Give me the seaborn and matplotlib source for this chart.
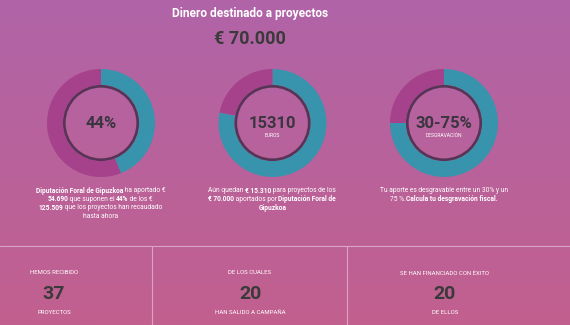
import numpy as np
import matplotlib
matplotlib.use("Agg")
import matplotlib.pyplot as plt
import seaborn as sns
from matplotlib.colors import LinearSegmentedColormap
from matplotlib.transforms import IdentityTransform

sns.set_style("white")
plt.rcParams['font.family'] = ['Roboto', 'DejaVu Sans']

# ---- data ----
title = "Dinero destinado a proyectos"
total_label = "€ 70.000"
donut_labels = ["Aportado", "Resto"]
donut1_values = [44, 56]            # % aportado por Diputación
donut2_values = [54690, 15310]      # gastado / restante de 70.000
donut3_values = [75, 25]            # desgravación
center_big = ["44%", "15310", "30-75%"]
center_small = ["", "EUROS", "DESGRAVACIÓN"]
captions = [
    [[("Diputación Foral de Gipuzkoa", True), (" ha aportado €", False)],
     [("54.690", True), (" que suponen el ", False), ("44%", True), (" de los €", False)],
     [("125.509", True), (" que los proyectos han recaudado", False)],
     [("hasta ahora", False)]],
    [[("Aún quedan ", False), ("€ 15.310", True), (" para proyectos de los", False)],
     [("€ 70.000", True), (" aportados por ", False), ("Diputación Foral de", True)],
     [("Gipuzkoa", True)]],
    [[("Tu aporte es desgravable entre un 30% y un", False)],
     [("75 %. ", False), ("Calcula tu desgravación fiscal.", True)]],
]
stat_top = ["HEMOS RECIBIDO", "DE LOS CUALES", "SE HAN FINANCIADO CON ÉXITO"]
stat_values = [37, 20, 20]
stat_bottom = ["PROYECTOS", "HAN SALIDO A CAMPAÑA", "DE ELLOS"]

W, H = 570, 325
TEAL = "#3893AC"
MAG = "#A6418B"
DARK = "#573455"
NUMC = "#3B3540"

fig = plt.figure(figsize=(W / 100, H / 100), dpi=100)

# background gradient
bg = fig.add_axes([0, 0, 1, 1])
cmap = LinearSegmentedColormap.from_list("bg", ["#B064A7", "#C2608F"])
grad = np.linspace(0, 1, 256).reshape(-1, 1)
bg.imshow(grad, cmap=cmap, aspect="auto", extent=[0, W, H, 0])
bg.set_xlim(0, W)
bg.set_ylim(H, 0)
bg.axis("off")

# separators
bg.plot([0, W], [246, 246], color="#DCA3C9", lw=0.8)
bg.plot([152, 152], [246, H], color="#DCA3C9", lw=0.8)
bg.plot([347, 347], [246, H], color="#DCA3C9", lw=0.8)

# donuts
centers = [(101, 123), (272.5, 123), (444, 123)]
values = [donut1_values, donut2_values, donut3_values]
R_OUT, R_IN = 54, 38
half = 60
for (cx, cy), vals in zip(centers, values):
    ax = fig.add_axes([(cx - half) / W, 1 - (cy + half) / H, 2 * half / W, 2 * half / H])
    ax.pie(vals, colors=[TEAL, MAG], startangle=90, counterclock=False,
           radius=R_OUT, wedgeprops=dict(width=R_OUT - R_IN, linewidth=0))
    circ = plt.Circle((0, 0), R_IN - 1.3, fill=False, color=DARK, lw=1.9)
    ax.add_patch(circ)
    ax.set_xlim(-half, half)
    ax.set_ylim(-half, half)
    ax.set_aspect("equal")
    ax.axis("off")

def px(x, y, s, size, color, weight="normal", ha="center", va="center"):
    return fig.text(x, H - y, s, fontsize=size, color=color, fontweight=weight,
                    ha=ha, va=va, transform=IdentityTransform())

# title
px(250, 13, title, 8.6, "white", "bold")
px(250, 38.5, total_label, 13, "#3A3A3A", "bold")

# center labels
for (cx, cy), big, small in zip(centers, center_big, center_small):
    if small:
        px(cx, cy, big, 12, NUMC, "bold")
        px(cx, cy + 12.5, small, 3.6, "white")
    else:
        px(cx, cy + 1, big, 12, NUMC, "bold")

# captions with mixed weights
renderer = fig.canvas.get_renderer()
CAP_SIZE = 4.8

def seg_width(s, bold):
    t1 = fig.text(0, 0, "|" + s + "|", fontsize=CAP_SIZE, fontweight="bold" if bold else "normal")
    t2 = fig.text(0, 0, "||", fontsize=CAP_SIZE, fontweight="bold" if bold else "normal")
    w = t1.get_window_extent(renderer).width - t2.get_window_extent(renderer).width
    t1.remove(); t2.remove()
    return w

line_y0 = 191
line_dy = 8.4
for (cx, _), lines in zip(centers, captions):
    for i, line in enumerate(lines):
        widths = [seg_width(s, b) for s, b in line]
        x = cx - sum(widths) / 2
        y = line_y0 + i * line_dy
        for (s, b), w in zip(line, widths):
            px(x, y, s, CAP_SIZE, "white", "bold" if b else "normal", ha="left")
            x += w - 0.4

# bottom stats
stat_x = [54, 250, 445]
for x, top, v, bot in zip(stat_x, stat_top, stat_values, stat_bottom):
    px(x, 273, top, 4.3, "white")
    px(x, 294, str(v), 14, "#3A3A3A", "bold")
    px(x, 313, bot, 4.3, "white")

fig.savefig("out.png", dpi=100)
